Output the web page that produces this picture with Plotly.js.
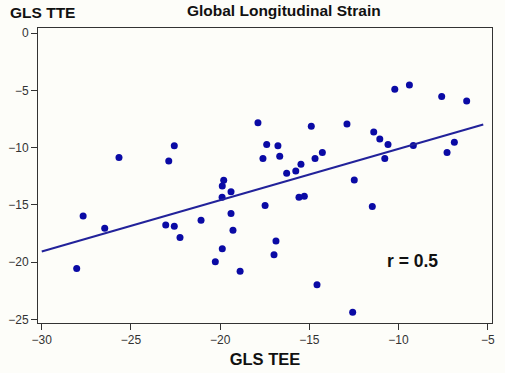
<!DOCTYPE html>
<html>
<head>
<meta charset="utf-8">
<script src="https://cdn.plot.ly/plotly-3.0.1.min.js"></script>
<style>html,body{margin:0;padding:0;background:#fdfdf9;}#chart{width:505px;height:373px;}</style>
</head>
<body>
<div id="chart"></div>
<script>
var glsTEE = [-28.04,-27.68,-26.47,-25.67,-23.05,-22.57,-22.88,-22.57,-22.25,-21.07,
  -20.27,-19.88,-19.80,-19.88,-19.89,-19.39,-19.39,-19.28,-18.88,-17.88,
  -17.39,-17.60,-17.48,-16.87,-16.98,-16.76,-16.66,-16.27,-15.76,-15.47,
  -15.58,-15.28,-14.89,-14.68,-14.27,-14.57,-12.89,-12.48,-12.57,-11.47,
  -11.39,-11.05,-10.59,-10.77,-10.21,-9.39,-9.17,-7.58,-7.28,-6.87,-6.18];
var glsTTE = [-20.55,-15.97,-17.05,-10.86,-16.76,-16.87,-11.16,-9.84,-17.84,-16.35,
  -19.96,-18.83,-12.85,-13.35,-14.33,-13.84,-15.76,-17.22,-20.79,-7.83,
  -9.72,-10.95,-15.06,-18.16,-19.35,-9.84,-10.74,-12.23,-12.03,-11.44,
  -14.33,-14.25,-8.12,-10.95,-10.42,-21.98,-7.92,-12.82,-24.38,-15.15,
  -8.62,-9.23,-9.72,-10.95,-4.90,-4.53,-9.81,-5.52,-10.42,-9.52,-5.93];
var fitX = [-30, -5.25];
var fitY = [-19.07, -7.97];
var xTicks = [-30,-25,-20,-15,-10,-5];
var yTicks = [0,-5,-10,-15,-20,-25];
var rLabel = 'r = 0.5';

var font = 'Liberation Sans, Arial, sans-serif';
var data = [
  {x: glsTEE, y: glsTTE, type: 'scatter', mode: 'markers',
   marker: {color: '#0a0aa5', size: 7}, hoverinfo: 'x+y'},
  {x: fitX, y: fitY, type: 'scatter', mode: 'lines',
   line: {color: '#22229a', width: 2}}
];
var layout = {
  width: 505, height: 373,
  margin: {l: 38, r: 13, t: 28, b: 50, pad: 0},
  paper_bgcolor: '#fdfdf9', plot_bgcolor: '#fdfdf9',
  showlegend: false,
  font: {family: font, size: 12, color: '#333'},
  title: {text: '<b>Global Longitudinal Strain</b>', font: {family: font, size: 15.5, color: '#111'},
          x: 0.562, xanchor: 'center', y: 0.972, yanchor: 'middle'},
  xaxis: {range: [-30.21, -4.76], tickvals: xTicks, ticks: 'outside', ticklen: 6, tickwidth: 1,
          tickcolor: '#333', showline: true, linecolor: '#333', linewidth: 1, mirror: true,
          showgrid: false, zeroline: false, tickfont: {family: font, size: 12, color: '#333'},
          title: {text: '<b>GLS TEE</b>', font: {family: font, size: 16.5, color: '#111'}, standoff: 7}},
  yaxis: {range: [-25.32, 0.46], tickvals: yTicks, ticks: 'outside', ticklen: 6, tickwidth: 1,
          tickcolor: '#333', showline: true, linecolor: '#333', linewidth: 1, mirror: true,
          showgrid: false, zeroline: false, tickfont: {family: font, size: 12, color: '#333'}},
  annotations: [
    {text: '<b>GLS TTE</b>', xref: 'paper', yref: 'paper', x: -0.066, y: 1.052,
     xanchor: 'left', yanchor: 'middle', showarrow: false,
     font: {family: font, size: 15.5, color: '#111'}},
    {text: '<b>' + rLabel + '</b>', xref: 'x', yref: 'y', x: -9.24, y: -19.9,
     xanchor: 'center', yanchor: 'middle', showarrow: false,
     font: {family: font, size: 17.5, color: '#111'}}
  ]
};
Plotly.newPlot('chart', data, layout, {displayModeBar: false, staticPlot: true});
</script>
</body>
</html>
